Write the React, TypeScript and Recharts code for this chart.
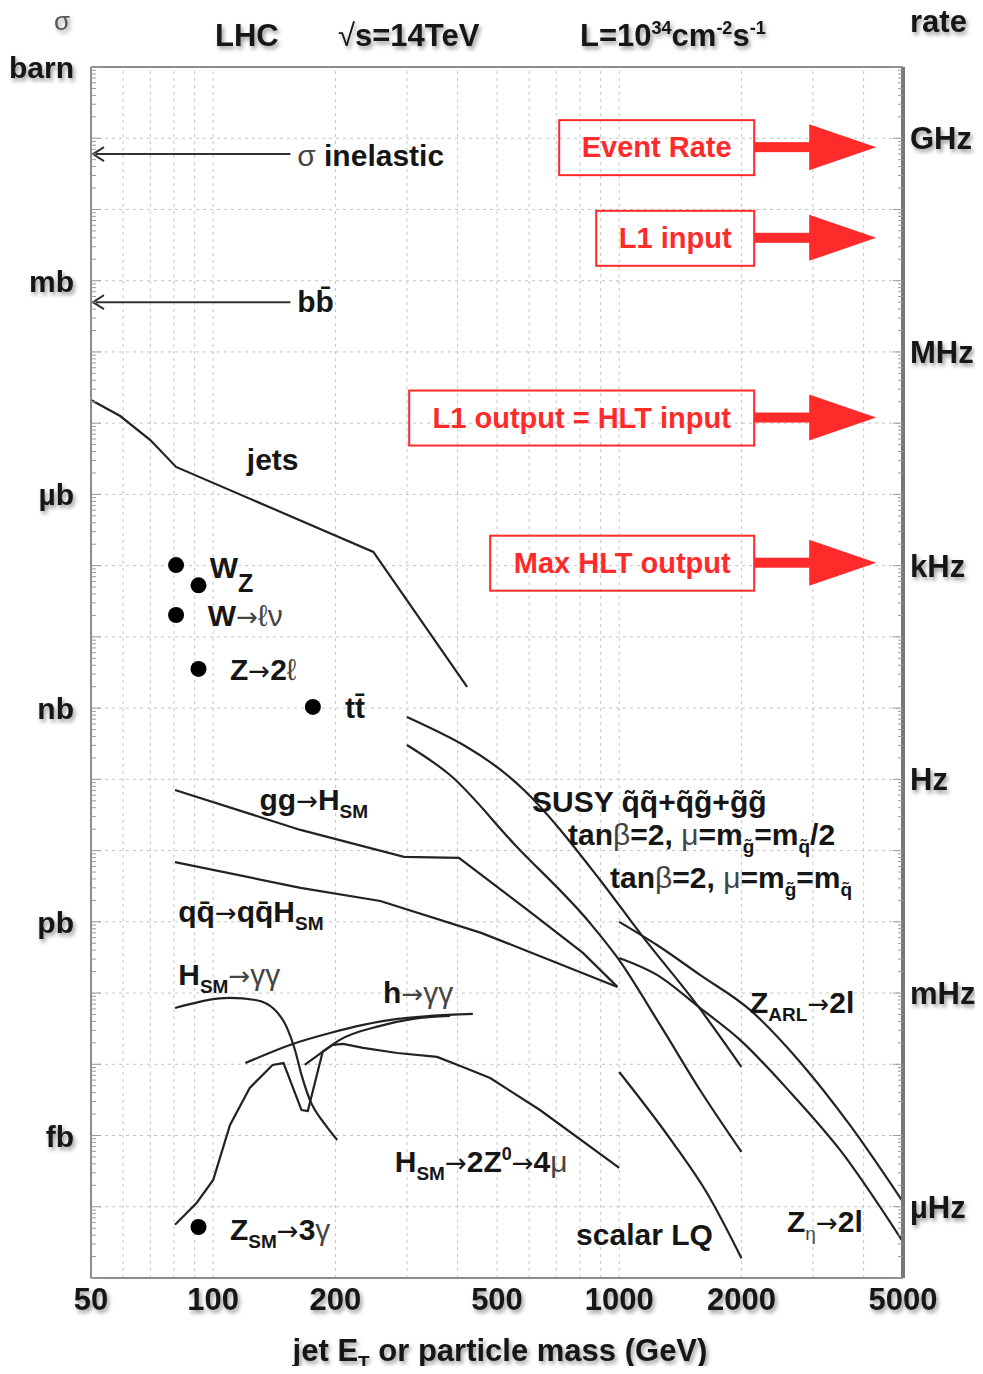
import React from 'react';
import { ComposedChart, Line, Scatter, XAxis, YAxis, ReferenceLine } from 'recharts';

const W = 967;
const H = 1358;
const LEFT = 83;
const RIGHT = 895;
const BOTTOM = 1270;

const FONT = '"Liberation Sans", Arial, Helvetica, sans-serif';
const SYM = '"DejaVu Sans", sans-serif';
const RED = '#ff2a2a';
const INK = '#161616';

// axes
const xTicks = [50, 100, 200, 500, 1000, 2000, 5000];
const xGrid = [60, 70, 80, 90, 100, 200, 300, 400, 500, 600, 700, 800, 900, 1000, 2000, 3000, 4000];
const sigmaTicks = [1, 1e-3, 1e-6, 1e-9, 1e-12, 1e-15];
const sigmaLabels = ['barn', 'mb', 'µb', 'nb', 'pb', 'fb'];
const rateTicks = [1e9, 1e6, 1e3, 1, 1e-3, 1e-6];
const rateLabels = ['GHz', 'MHz', 'kHz', 'Hz', 'mHz', 'µHz'];
const LUMI = 1e10; // 10^34 cm^-2 s^-1 expressed in barn^-1 s^-1

// cross sections: [mass or jet ET (GeV), sigma (barn)]
const sigmaInel = [[50, 0.06], [155, 0.06]];
const bbbar = [[50, 5e-4], [155, 5e-4]];
const jets = [[50, 2.12e-5], [59, 1.26e-5], [70, 5.8e-6], [81, 2.43e-6], [248, 1.56e-7], [422, 1.98e-9]];
const ggH = [[80.5, 7.1e-11], [164, 1.95e-11], [295, 8.15e-12], [403, 7.9e-12], [603, 1.38e-12], [814, 3.66e-13], [990, 1.22e-13]];
const qqH = [[80.5, 6.9e-12], [164, 3.0e-12], [258, 1.96e-12], [457, 7.0e-13], [610, 3.66e-13], [990, 1.22e-13]];
const hsmGG = [[80.5, 6.18e-14], [110, 8.54e-14], [127, 8.0e-14], [142, 5.8e-14], [152, 3.24e-14], [159, 1.59e-14], [165, 7.1e-15], [173, 3.16e-15], [189, 1.41e-15], [202, 8.67e-16]];
const hsmZZ = [[80.5, 5.6e-17], [91, 1.13e-16], [100, 2.38e-16], [110, 1.41e-15], [123, 4.66e-15], [140, 9.8e-15], [149, 1.04e-14], [165, 2.28e-15], [171, 2.21e-15], [186, 1.49e-14], [197, 1.87e-14], [209, 1.93e-14], [234, 1.7e-14], [284, 1.44e-14], [356, 1.27e-14], [412, 9.18e-15], [481, 6.43e-15], [638, 2.28e-15], [1000, 3.51e-16]];
const hGG1 = [[120, 1.04e-14], [157, 1.93e-14], [194, 2.75e-14], [234, 3.57e-14], [284, 4.33e-14], [342, 4.77e-14], [436, 5.09e-14]];
const hGG2 = [[168, 9.8e-15], [183, 1.4e-14], [205, 2.2e-14], [258, 3.46e-14], [311, 4.33e-14], [383, 4.77e-14]];
const susyHalf = [[300, 7.5e-10], [586, 6.87e-11], [897, 3.87e-12], [1144, 6.14e-13], [1555, 6.81e-14], [2000, 9.18e-15]];
const susyEq = [[300, 3.04e-10], [383, 1.15e-10], [554, 1.2e-11], [847, 9.64e-13], [987, 3.21e-13], [1261, 3.57e-14], [1581, 4.36e-15], [2000, 5.9e-16]];
const zArl = [[1000, 1.0e-12], [1239, 4.73e-13], [1581, 1.8e-13], [2100, 5.8e-14], [2788, 1.08e-14], [3698, 1.41e-15], [5000, 1.17e-16]];
const zEta = [[1000, 3.11e-13], [1239, 1.8e-13], [1581, 6.18e-14], [1984, 2.2e-14], [2634, 4.09e-15], [3498, 6.28e-16], [5000, 3.21e-17]];
const scalarLQ = [[1000, 7.8e-15], [1357, 7.9e-16], [1645, 1.56e-16], [2000, 1.9e-17]];

// measured standard-model points
const smPoints = [[81, 1.02e-7], [92, 5.3e-8], [81, 2.03e-8], [92, 3.55e-9], [176, 1.04e-9], [92, 5.2e-17]];

// trigger rates (Hz)
const triggerNames = ['Event Rate', 'L1 input', 'L1 output = HLT input', 'Max HLT output'];
const triggerRates = [7.5e8, 4e7, 1.2e5, 1.1e3];
const triggerBoxWidths = [195, 158, 345, 264];

const pts = (a: number[][]) => a.map(([x, y]) => ({ x, y }));

const curves = [
  { key: 'jets', data: jets, type: 'linear' },
  { key: 'ggH', data: ggH, type: 'linear' },
  { key: 'qqH', data: qqH, type: 'linear' },
  { key: 'hsmGG', data: hsmGG, type: 'monotone' },
  { key: 'hsmZZ', data: hsmZZ, type: 'linear' },
  { key: 'hGG1', data: hGG1, type: 'monotone' },
  { key: 'hGG2', data: hGG2, type: 'monotone' },
  { key: 'susyHalf', data: susyHalf, type: 'monotone' },
  { key: 'susyEq', data: susyEq, type: 'monotone' },
  { key: 'zArl', data: zArl, type: 'monotone' },
  { key: 'zEta', data: zEta, type: 'monotone' },
  { key: 'lq', data: scalarLQ, type: 'monotone' },
];

// text annotations, anchored at their start / baseline
const labelAnchors = [
  { id: 'inel', x: 161, y: 0.0408 },
  { id: 'bb', x: 161, y: 3.64e-4 },
  { id: 'jets', x: 121, y: 2.2e-6 },
  { id: 'wz', x: 98, y: 6.7e-8 },
  { id: 'wlv', x: 97, y: 1.42e-8 },
  { id: 'z2l', x: 110, y: 2.48e-9 },
  { id: 'tt', x: 211, y: 7.28e-10 },
  { id: 'ggh', x: 130, y: 3.72e-11 },
  { id: 'qqh', x: 82, y: 9.96e-13 },
  { id: 'hgg', x: 82, y: 1.3e-13 },
  { id: 'h', x: 262, y: 7.26e-14 },
  { id: 'hzz', x: 280, y: 3.08e-16 },
  { id: 'z3g', x: 110, y: 3.42e-17 },
  { id: 'lq', x: 783, y: 2.91e-17 },
  { id: 'zeta', x: 2590, y: 4.43e-17 },
  { id: 'zarl', x: 2100, y: 5.26e-14 },
  { id: 'susy', x: 610, y: 3.48e-11 },
  { id: 'tan1', x: 748, y: 1.2e-11 },
  { id: 'tan2', x: 949, y: 2.99e-12 },
];

const minorTicks = (lo: number, hi: number) => {
  const out: number[] = [];
  for (let k = lo; k <= hi; k++) {
    for (let m = 1; m <= 9; m++) {
      const v = m * Math.pow(10, k);
      if (v <= Math.pow(10, hi) * 1.0001) out.push(v);
    }
  }
  return out;
};

const findIdx = (list: number[], v: number) =>
  list.findIndex((t) => Math.abs(Math.log10(t) - Math.log10(v)) < 1e-6);
const isDecade = (v: number) => Math.abs(Math.log10(v) - Math.round(Math.log10(v))) < 1e-6;

const txt = { fontFamily: FONT, fontWeight: 700, fill: INK, fontSize: 31 } as const;
const lbl = { fontFamily: FONT, fontWeight: 700, fill: INK, fontSize: 30 } as const;
const thin = { fontWeight: 400, fill: '#444' } as const;
const arr = { fontFamily: SYM, fontWeight: 400, fontSize: 26 } as const;
const SUB = 8;
const sub = { fontSize: 19 } as const;

function renderLabel(id: string, x: number, y: number) {
  switch (id) {
    case 'inel':
      return <text x={x} y={y} {...lbl}><tspan {...thin}>σ</tspan> inelastic</text>;
    case 'bb':
      return <text x={x} y={y} {...lbl}>b{'b\u0304'}</text>;
    case 'jets':
      return <text x={x} y={y} {...lbl}>jets</text>;
    case 'wz':
      return <text x={x} y={y} {...lbl}>W<tspan dy={14} fontSize={25}>Z</tspan></text>;
    case 'wlv':
      return <text x={x} y={y} {...lbl}>W<tspan {...arr} fill="#444">→</tspan><tspan {...thin}>ℓν</tspan></text>;
    case 'z2l':
      return <text x={x} y={y} {...lbl}>Z<tspan {...arr}>→</tspan>2<tspan {...thin}>ℓ</tspan></text>;
    case 'tt':
      return <text x={x} y={y} {...lbl}>t{'t\u0304'}</text>;
    case 'ggh':
      return <text x={x} y={y} {...lbl}>gg<tspan {...arr}>→</tspan>H<tspan dy={SUB} {...sub}>SM</tspan></text>;
    case 'qqh':
      return <text x={x} y={y} {...lbl}>q{'q\u0304'}<tspan {...arr}>→</tspan>q{'q\u0304'}H<tspan dy={SUB} {...sub}>SM</tspan></text>;
    case 'hgg':
      return (
        <text x={x} y={y} {...lbl}>
          H<tspan dy={SUB} {...sub}>SM</tspan><tspan dy={-SUB} {...arr} fill="#444">→</tspan><tspan {...thin}>γγ</tspan>
        </text>
      );
    case 'h':
      return <text x={x} y={y} {...lbl}>h<tspan {...arr} fill="#444">→</tspan><tspan {...thin}>γγ</tspan></text>;
    case 'hzz':
      return (
        <text x={x} y={y} {...lbl}>
          H<tspan dy={SUB} {...sub}>SM</tspan><tspan dy={-SUB} {...arr}>→</tspan>2Z<tspan dy={-12} fontSize={18}>0</tspan>
          <tspan dy={12} {...arr}>→</tspan>4<tspan {...thin}>μ</tspan>
        </text>
      );
    case 'z3g':
      return (
        <text x={x} y={y} {...lbl}>
          Z<tspan dy={SUB} {...sub}>SM</tspan><tspan dy={-SUB} {...arr}>→</tspan>3<tspan {...thin}>γ</tspan>
        </text>
      );
    case 'lq':
      return <text x={x} y={y} {...lbl}>scalar LQ</text>;
    case 'zeta':
      return (
        <text x={x} y={y} {...lbl}>
          Z<tspan dy={SUB} {...sub} {...thin}>η</tspan><tspan dy={-SUB} {...arr}>→</tspan>2l
        </text>
      );
    case 'zarl':
      return (
        <text x={x} y={y} {...lbl}>
          Z<tspan dy={SUB} {...sub}>ARL</tspan><tspan dy={-SUB} {...arr}>→</tspan>2l
        </text>
      );
    case 'susy':
      return <text x={x} y={y} {...lbl}>SUSY {'q\u0303q\u0303+q\u0303g\u0303+g\u0303g\u0303'}</text>;
    case 'tan1':
      return (
        <text x={x} y={y} {...lbl}>
          tan<tspan {...thin}>β</tspan>=2, <tspan {...thin}>μ</tspan>=m<tspan dy={SUB} {...sub}>{'g\u0303'}</tspan>
          <tspan dy={-SUB}>=m</tspan><tspan dy={SUB} {...sub}>{'q\u0303'}</tspan><tspan dy={-SUB}>/2</tspan>
        </text>
      );
    case 'tan2':
      return (
        <text x={x} y={y} {...lbl}>
          tan<tspan {...thin}>β</tspan>=2, <tspan {...thin}>μ</tspan>=m<tspan dy={SUB} {...sub}>{'g\u0303'}</tspan>
          <tspan dy={-SUB}>=m</tspan><tspan dy={SUB} {...sub}>{'q\u0303'}</tspan>
        </text>
      );
    default:
      return <g />;
  }
}

const LeftTick = (p: any) => {
  const v = p.payload.value;
  const y = p.y;
  const i = findIdx(sigmaTicks, v);
  const len = isDecade(v) ? 10 : 5;
  return (
    <g>
      <line x1={LEFT} x2={LEFT + len} y1={y} y2={y} stroke="#9a9a9a" strokeWidth={1} />
      {i >= 0 && (
        <text x={LEFT - 17} y={y + 11} textAnchor="end" filter="url(#txtShadow)" {...txt} fontSize={30}>
          {sigmaLabels[i]}
        </text>
      )}
    </g>
  );
};

const RightTick = (p: any) => {
  const v = p.payload.value;
  const y = p.y;
  const i = findIdx(rateTicks, v);
  const len = isDecade(v) ? 10 : 5;
  return (
    <g>
      <line x1={RIGHT - len} x2={RIGHT} y1={y} y2={y} stroke="#9a9a9a" strokeWidth={1} />
      {i >= 0 && (
        <text x={RIGHT + 7} y={y + 11} textAnchor="start" filter="url(#txtShadow)" {...txt}>
          {rateLabels[i]}
        </text>
      )}
    </g>
  );
};

const BottomTick = (p: any) => (
  <text x={p.x} y={BOTTOM + 32} textAnchor="middle" filter="url(#txtShadow)" {...txt}>
    {p.payload.value}
  </text>
);

const arrowHead = (p: any) =>
  p.index === 0 ? (
    <path
      key={`ah-${p.index}`}
      d={`M${p.cx + 13},${p.cy - 7} L${p.cx + 2},${p.cy} L${p.cx + 13},${p.cy + 7}`}
      fill="none"
      stroke="#333"
      strokeWidth={2}
    />
  ) : (
    <g key={`ah-${p.index}`} />
  );

const triggerShape = (p: any) => {
  const { cx, cy } = p;
  const { name, w } = p.payload;
  return (
    <g>
      <rect x={cx - w} y={cy - 27} width={w} height={55} fill="none" stroke={RED} strokeWidth={2} />
      <text x={cx - w / 2} y={cy + 10} textAnchor="middle" fontFamily={FONT} fontWeight={700} fontSize={29} fill={RED}>
        {name}
      </text>
      <rect x={cx} y={cy - 5} width={60} height={10} fill={RED} />
      <path d={`M${cx + 55},${cy - 23} L${cx + 122},${cy} L${cx + 55},${cy + 23} Z`} fill={RED} />
    </g>
  );
};

export default function App() {
  const triggerData = triggerNames.map((name, i) => ({
    x: 2150,
    y: triggerRates[i] / LUMI,
    name,
    w: triggerBoxWidths[i],
  }));

  return (
    <div style={{ position: 'relative', width: W, height: H }}>
      <ComposedChart width={W} height={H} margin={{ top: 59, right: 0, bottom: 0, left: 0 }}>
        <XAxis
          dataKey="x"
          type="number"
          scale="log"
          domain={[50, 5000]}
          allowDataOverflow
          ticks={xTicks}
          interval={0}
          height={88}
          tickLine={false}
          axisLine={{ stroke: '#8c8c8c', strokeWidth: 2 }}
          tick={BottomTick}
        />
        <YAxis
          yAxisId="left"
          dataKey="y"
          type="number"
          scale="log"
          domain={[1e-17, 1]}
          allowDataOverflow
          ticks={minorTicks(-17, 0)}
          interval={0}
          width={83}
          tickLine={false}
          axisLine={{ stroke: '#8c8c8c', strokeWidth: 2 }}
          tick={LeftTick}
        />
        <YAxis
          yAxisId="right"
          orientation="right"
          type="number"
          scale="log"
          domain={[1e-7, 1e10]}
          allowDataOverflow
          ticks={minorTicks(-7, 10)}
          interval={0}
          width={72}
          tickLine={false}
          axisLine={{ stroke: '#777', strokeWidth: 4 }}
          tick={RightTick}
        />

        {xGrid.map((v) => (
          <ReferenceLine key={`gx-${v}`} x={v} yAxisId="left" stroke="#c4c4c4" strokeDasharray="3 4" />
        ))}
        {minorTicks(-16, -1).filter(isDecade).map((v) => (
          <ReferenceLine key={`gy-${v}`} y={v} yAxisId="left" stroke="#c4c4c4" strokeDasharray="3 4" />
        ))}
        <ReferenceLine y={1} yAxisId="left" stroke="#8c8c8c" strokeWidth={2} />

        <Line yAxisId="left" data={pts(sigmaInel)} dataKey="y" type="linear" stroke="#333" strokeWidth={2} dot={arrowHead} isAnimationActive={false} />
        <Line yAxisId="left" data={pts(bbbar)} dataKey="y" type="linear" stroke="#333" strokeWidth={2} dot={arrowHead} isAnimationActive={false} />

        {curves.map((c) => (
          <Line
            key={c.key}
            yAxisId="left"
            data={pts(c.data)}
            dataKey="y"
            type={c.type as any}
            stroke="#222"
            strokeWidth={2.2}
            dot={false}
            isAnimationActive={false}
          />
        ))}

        <Scatter yAxisId="left" data={pts(smPoints)} fill="#000" shape={(p: any) => <circle cx={p.cx} cy={p.cy} r={8} fill="#000" />} isAnimationActive={false} />
        <Scatter yAxisId="left" data={labelAnchors} shape={(p: any) => renderLabel(p.payload.id, p.cx, p.cy)} isAnimationActive={false} />
        <Scatter yAxisId="left" data={triggerData} shape={triggerShape} isAnimationActive={false} />
      </ComposedChart>

      <svg width={W} height={H} style={{ position: 'absolute', left: 0, top: 0, overflow: 'visible', pointerEvents: 'none' }}>
        <defs>
          <filter id="txtShadow" x="-20%" y="-30%" width="150%" height="180%">
            <feDropShadow dx="2" dy="3" stdDeviation="2" floodColor="#000" floodOpacity="0.4" />
          </filter>
        </defs>
        <g filter="url(#txtShadow)">
          <text x={54} y={22} textAnchor="middle" fontFamily={FONT} fontSize={26} fill="#555">σ</text>
          <text x={207} y={38} {...txt}>LHC</text>
          <text x={330} y={38} {...txt}>
            <tspan fontWeight={400}>√</tspan>s=14TeV
          </text>
          <text x={572} y={38} {...txt}>
            L=10<tspan dy={-12} fontSize={18}>34</tspan>
            <tspan dy={12}>cm</tspan>
            <tspan dy={-12} fontSize={18}>-2</tspan>
            <tspan dy={12}>s</tspan>
            <tspan dy={-12} fontSize={18}>-1</tspan>
          </text>
          <text x={902} y={24} {...txt}>rate</text>
          <text x={492} y={1353} textAnchor="middle" {...txt}>
            jet E<tspan dy={8} fontSize={19}>T</tspan>
            <tspan dy={-8}> or particle mass (GeV)</tspan>
          </text>
        </g>
      </svg>
    </div>
  );
}
